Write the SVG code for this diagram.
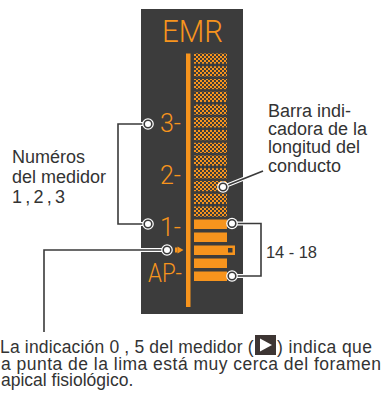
<svg xmlns="http://www.w3.org/2000/svg" width="382" height="398" viewBox="0 0 382 398">
<defs>
<pattern id="chk" width="4" height="4" patternUnits="userSpaceOnUse">
<rect width="4" height="4" fill="#3c3c3c"/>
<rect x="0" y="0" width="2" height="2" fill="#f7941d"/>
<rect x="2" y="2" width="2" height="2" fill="#f7941d"/>
</pattern>
</defs>
<style>
.lbl{font-family:"Liberation Sans",Arial,sans-serif;fill:#333}
.lcd{font-family:Roboto,"Liberation Sans",sans-serif;font-weight:300;fill:#f7941d}
.or{fill:#f7941d}
.halo{fill:none;stroke:#fff;stroke-width:4;stroke-linejoin:miter}
.ln{fill:none;stroke:#3a3a3a;stroke-width:1.6}
.dot{fill:#fff;stroke:#3a3a3a;stroke-width:1.6}
.dothalo{fill:#fff}
</style>
<rect width="382" height="398" fill="#fff"/>

<g id="meter">
<rect x="141" y="9" width="102" height="305" fill="#3c3c3c"/>
<text class="lcd" x="162" y="42" font-size="32" textLength="61" lengthAdjust="spacingAndGlyphs">EMR</text>
<rect class="or" x="186" y="53.5" width="4.5" height="253.5"/>
<g id="checker" fill="url(#chk)">
<rect x="194" y="53.5" width="33" height="10.2"/>
<rect x="194" y="66.25" width="33" height="10.2"/>
<rect x="194" y="79" width="33" height="10.2"/>
<rect x="194" y="91.75" width="33" height="10.2"/>
<rect x="194" y="104.5" width="33" height="10.2"/>
<rect x="194" y="117.25" width="33" height="10.2"/>
<rect x="194" y="130" width="33" height="10.2"/>
<rect x="194" y="142.75" width="33" height="10.2"/>
<rect x="194" y="155.5" width="33" height="10.2"/>
<rect x="194" y="168.25" width="33" height="10.2"/>
<rect x="194" y="181" width="33" height="10.2"/>
<rect x="194" y="193.75" width="33" height="10.2"/>
<rect x="194" y="206.5" width="33" height="10.2"/>
</g>
<g id="bars" class="or">
<rect x="194" y="219.5" width="33" height="9.5"/>
<rect x="194" y="232.5" width="33" height="9.5"/>
<rect x="194" y="245.5" width="41" height="9.5"/>
<rect x="194" y="258.5" width="33" height="9.5"/>
<rect x="194" y="271.5" width="33" height="9.5"/>
</g>
<rect x="228" y="248" width="4.5" height="4.5" fill="#3c3c3c"/>
<g id="scale">
<text class="lcd" x="181" y="132" font-size="25" text-anchor="end">3-</text>
<text class="lcd" x="181" y="184" font-size="25" text-anchor="end">2-</text>
<text class="lcd" x="181" y="236" font-size="25" text-anchor="end">1-</text>
<text class="lcd" x="148" y="282" font-size="25" textLength="34" lengthAdjust="spacingAndGlyphs">AP-</text>
</g>
<g id="pointer" class="or">
<rect x="175" y="247.5" width="2.5" height="5"/>
<polygon points="177.5,246.5 183.5,250 177.5,253.5"/>
</g>
</g>

<g id="connectors">
<path class="halo" d="M148,124 H118 V224 H148"/>
<path class="halo" d="M167,250 H44 V332"/>
<path class="halo" d="M223,187 L263,171"/>
<path class="halo" d="M232,223.5 H261 V276 H232"/>
<path class="ln" d="M148,124 H118 V224 H148"/>
<path class="ln" d="M167,250 H44 V332"/>
<path class="ln" d="M223,187 L263,171"/>
<path class="ln" d="M232,223.5 H261 V276 H232"/>
<circle class="dothalo" cx="148" cy="124" r="5.8"/>
<circle class="dothalo" cx="148" cy="224" r="5.8"/>
<circle class="dothalo" cx="167" cy="250" r="5.8"/>
<circle class="dothalo" cx="223" cy="187" r="5.8"/>
<circle class="dothalo" cx="232" cy="223.5" r="5.8"/>
<circle class="dothalo" cx="232" cy="276" r="5.8"/>
<circle class="dot" cx="148" cy="124" r="3.8"/>
<circle class="dot" cx="148" cy="224" r="3.8"/>
<circle class="dot" cx="167" cy="250" r="3.8"/>
<circle class="dot" cx="223" cy="187" r="3.8"/>
<circle class="dot" cx="232" cy="223.5" r="3.8"/>
<circle class="dot" cx="232" cy="276" r="3.8"/>
</g>

<g id="label-numbers">
<text class="lbl" x="12" y="163" font-size="18">Numéros</text>
<text class="lbl" x="12" y="183" font-size="18">del medidor</text>
<text class="lbl" x="12" y="203" font-size="18" textLength="53" lengthAdjust="spacing">1 , 2 , 3</text>
</g>

<g id="label-bar">
<text class="lbl" x="268" y="116.5" font-size="18">Barra indi-</text>
<text class="lbl" x="268" y="135" font-size="18">cadora de la</text>
<text class="lbl" x="268" y="153.3" font-size="18">longitud del</text>
<text class="lbl" x="268" y="171.6" font-size="18">conducto</text>
</g>

<g id="label-range">
<text class="lbl" x="266" y="258" font-size="16.5" textLength="51" lengthAdjust="spacing">14 - 18</text>
</g>

<g id="label-note">
<text class="lbl" x="0" y="353" font-size="17.5" textLength="253.5" lengthAdjust="spacing">La indicación 0 , 5 del medidor (</text>
<rect x="255" y="335" width="21" height="20" fill="#3d3533"/>
<polygon points="260,338.5 272,345 260,351.5" fill="#fff"/>
<text class="lbl" x="277" y="353" font-size="17.5" textLength="95" lengthAdjust="spacing">) indica que</text>
<text class="lbl" x="1" y="369.5" font-size="17.5" textLength="380" lengthAdjust="spacing">a punta de la lima está muy cerca del foramen</text>
<text class="lbl" x="1" y="386" font-size="17.5">apical fisiológico.</text>
</g>
</svg>
